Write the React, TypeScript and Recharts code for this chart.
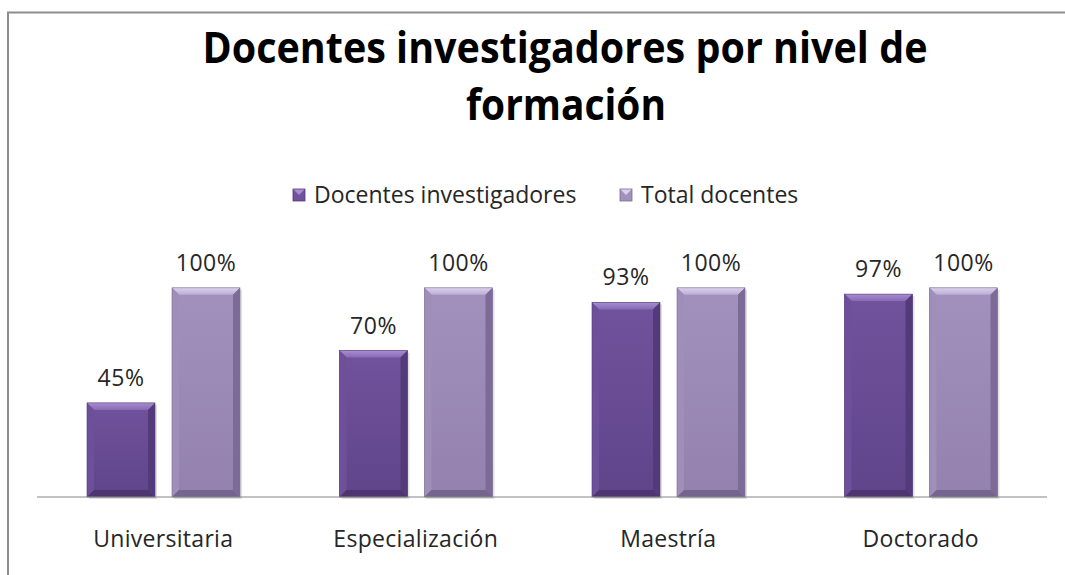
import React from 'react';
import { BarChart, Bar, XAxis, YAxis, LabelList } from 'recharts';

const categories = ['Universitaria', 'Especialización', 'Maestría', 'Doctorado'];
const investigadores = [45, 70, 93, 97];
const totalDocentes = [100, 100, 100, 100];
const seriesNames = ['Docentes investigadores', 'Total docentes'];
const titleLines = ['Docentes investigadores por nivel de', 'formación'];

const data = categories.map((c, i) => ({ name: c, inv: investigadores[i], tot: totalDocentes[i] }));

const W = 1065;
const H = 575;
const FONT = '"Open Sans", "DejaVu Sans", sans-serif';

type Pal = { faceTop: string; faceBot: string; top1: string; top2: string; left: string; right: string; bottom: string };
const darkPal: Pal = { faceTop: '#71529c', faceBot: '#60458b', top1: '#a88dd0', top2: '#8769b5', left: '#6e509a', right: '#533a7a', bottom: '#4d3570' };
const lightPal: Pal = { faceTop: '#a290bd', faceBot: '#9481ae', top1: '#dcd1ed', top2: '#bbacd5', left: '#9f8dba', right: '#7c6b97', bottom: '#75648e' };
const pals = [darkPal, lightPal];

const makeBevel = (pal: Pal, id: string) => (props: any) => {
  const { x, y, width: w, height: h } = props;
  if (!w || !h) return null;
  const b = Math.min(7, w / 2, h / 2);
  return (
    <g>
      <defs>
        <linearGradient id={`face-${id}`} x1="0" y1="0" x2="0" y2="1">
          <stop offset="0" stopColor={pal.faceTop} />
          <stop offset="1" stopColor={pal.faceBot} />
        </linearGradient>
        <linearGradient id={`top-${id}`} x1="0" y1="0" x2="0" y2="1">
          <stop offset="0" stopColor={pal.top1} />
          <stop offset="1" stopColor={pal.top2} />
        </linearGradient>
      </defs>
      <rect x={x + 2} y={y + 2} width={w} height={h} fill="#000" opacity={0.12} />
      <rect x={x} y={y} width={w} height={h} fill={`url(#face-${id})`} />
      <polygon points={`${x},${y} ${x + w},${y} ${x + w - b},${y + b} ${x + b},${y + b}`} fill={`url(#top-${id})`} />
      <polygon points={`${x},${y} ${x + b},${y + b} ${x + b},${y + h - b} ${x},${y + h}`} fill={pal.left} />
      <polygon points={`${x + w},${y} ${x + w},${y + h} ${x + w - b},${y + h - b} ${x + w - b},${y + b}`} fill={pal.right} />
      <polygon points={`${x},${y + h} ${x + b},${y + h - b} ${x + w - b},${y + h - b} ${x + w},${y + h}`} fill={pal.bottom} />
      <rect x={x} y={y} width={w} height={h} fill="none" stroke={pal.right} strokeWidth={0.6} />
    </g>
  );
};

const DarkBar = makeBevel(darkPal, 'd');
const LightBar = makeBevel(lightPal, 'l');

const PctLabel = (props: any) => {
  const { x, y, width, value } = props;
  return (
    <text x={x + width / 2} y={y - 17} textAnchor="middle" fontFamily={FONT} fontSize={23} letterSpacing={0.5} fill="#262626">
      {`${value}%`}
    </text>
  );
};

const CatTick = (props: any) => {
  const { x, y, payload } = props;
  return (
    <text x={x} y={y} dy={42} textAnchor="middle" fontFamily={FONT} fontSize={23} letterSpacing={0.3} fill="#262626">
      {payload.value}
    </text>
  );
};

const legendItems = [
  { name: seriesNames[0], markerX: 293, textX: 314 },
  { name: seriesNames[1], markerX: 620, textX: 641 },
];

export default function App() {
  return (
    <div style={{ position: 'absolute', left: 0, top: 0, width: W, height: H, background: '#fff', overflow: 'hidden' }}>
      <BarChart
        width={W}
        height={H}
        data={data}
        margin={{ top: 246, right: 18, bottom: 30, left: 37 }}
        barCategoryGap={49.75}
        barGap={17}
      >
        <XAxis
          dataKey="name"
          height={48}
          tickLine={false}
          axisLine={{ stroke: '#868686', strokeWidth: 1 }}
          tick={<CatTick />}
          interval={0}
        />
        <YAxis hide domain={[0, 120]} />
        <Bar dataKey="inv" name={seriesNames[0]} barSize={68} isAnimationActive={false} shape={<DarkBar />}>
          <LabelList dataKey="inv" content={<PctLabel />} />
        </Bar>
        <Bar dataKey="tot" name={seriesNames[1]} barSize={68} isAnimationActive={false} shape={<LightBar />}>
          <LabelList dataKey="tot" content={<PctLabel />} />
        </Bar>
      </BarChart>
      <svg width={W} height={H} style={{ position: 'absolute', left: 0, top: 0, pointerEvents: 'none' }}>
        <rect x={8} y={12.5} width={1200} height={700} fill="none" stroke="#8c8c8c" strokeWidth={2} />
        <text x={565} y={63} textAnchor="middle" fontFamily={FONT} fontWeight={700} fontSize={43} fill="#000"
          textLength={725} lengthAdjust="spacingAndGlyphs">
          {titleLines[0]}
        </text>
        <text x={566} y={120} textAnchor="middle" fontFamily={FONT} fontWeight={700} fontSize={43} fill="#000"
          textLength={200} lengthAdjust="spacingAndGlyphs">
          {titleLines[1]}
        </text>
        {legendItems.map((it, i) => {
          const p = pals[i];
          return (
            <g key={it.name}>
              <rect x={it.markerX} y={189} width={12} height={12} fill={p.faceTop} />
              <polygon points={`${it.markerX},189 ${it.markerX + 12},189 ${it.markerX + 6},195`} fill={p.top1} />
              <rect x={it.markerX} y={189} width={12} height={12} fill="none" stroke={p.right} strokeWidth={0.8} />
              <text x={it.textX} y={203} fontFamily={FONT} fontSize={23} fill="#262626">{it.name}</text>
            </g>
          );
        })}
      </svg>
    </div>
  );
}
